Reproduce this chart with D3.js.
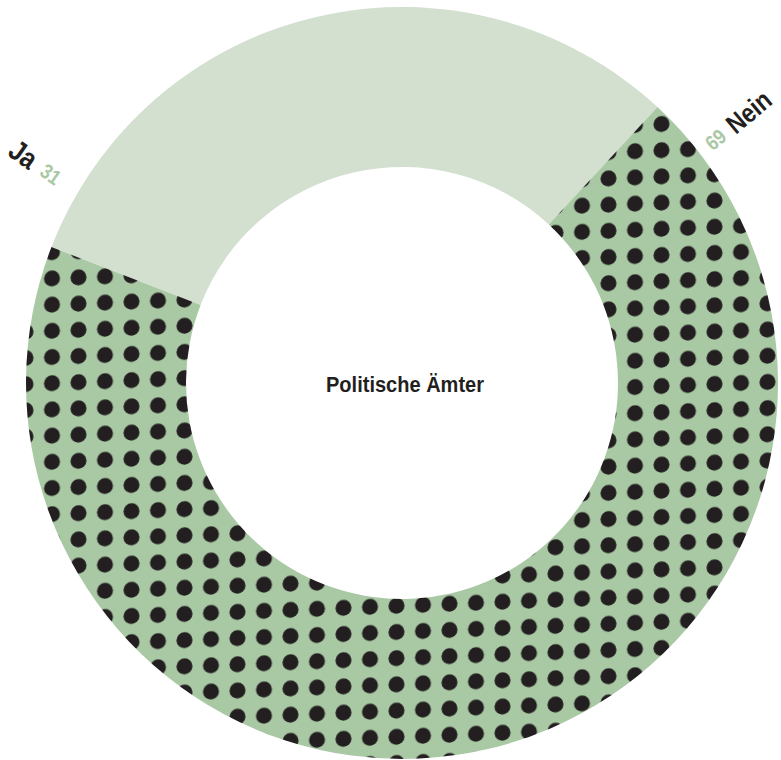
<!DOCTYPE html>
<html><head><meta charset="utf-8">
<script src="https://cdn.jsdelivr.net/npm/d3@7"></script>
<style>
html,body{margin:0;padding:0;background:#fff;overflow:hidden}
svg text{font-family:"Liberation Sans",Arial,sans-serif;font-weight:bold}
</style></head>
<body>
<script>
const categories = ["Ja", "Nein"];
const values = [31, 69];
const title = "Politische Ämter";

const W = 781, H = 760;
const cx = 402, cy = 383, rOuter = 376, rInner = 216;
const startDeg = -68.8;

const svg = d3.select("body").append("svg").attr("width", W).attr("height", H);
const defs = svg.append("defs");
const pat = defs.append("pattern").attr("id", "dots")
  .attr("patternUnits", "userSpaceOnUse")
  .attr("x", 7.75).attr("y", -0.1).attr("width", 26.5).attr("height", 26.2)
  .attr("patternTransform", "skewY(-2.2)");
pat.append("rect").attr("width", 26.5).attr("height", 26.2).attr("fill", "#a9c8a4");
pat.append("circle").attr("cx", 13.25).attr("cy", 13.1).attr("r", 8).attr("fill", "#231f20");

const fills = ["#d3e0cf", "url(#dots)"];
const pie = d3.pie().sort(null).value(d => d)
  .startAngle(startDeg * Math.PI / 180).endAngle(startDeg * Math.PI / 180 + 2 * Math.PI);
const arcs = pie(values);
const arc = d3.arc().innerRadius(rInner).outerRadius(rOuter);
const g = svg.append("g").attr("transform", `translate(${cx},${cy})`);
g.selectAll("path").data(arcs).join("path").attr("d", arc).attr("fill", (d, i) => fills[i]);

// centre title
g.append("text").attr("x", 3).attr("y", 9).attr("text-anchor", "middle")
  .attr("font-size", 22.5).attr("fill", "#231f20")
  .attr("textLength", 158).attr("lengthAdjust", "spacingAndGlyphs").text(title);

// radial labels
const labelCfg = [
  { angle: -58.8, r: 456, rot: 35, inward: true },
  { angle: 52.2, r: 387, rot: -40, inward: false }
];
categories.forEach((c, i) => {
  const cfg = labelCfg[i];
  const a = cfg.angle * Math.PI / 180;
  const x = cfg.r * Math.sin(a), y = -cfg.r * Math.cos(a);
  const t = g.append("text").attr("transform", `translate(${x},${y}) rotate(${cfg.rot}) scale(0.85,1)`)
    .attr("dominant-baseline", "central");
  if (cfg.inward) {
    t.append("tspan").attr("font-size", 29).attr("fill", "#231f20").text(c);
    t.append("tspan").attr("dx", 12).attr("font-size", 21).attr("fill", "#a9c8a4").text(values[i]);
  } else {
    t.append("tspan").attr("font-size", 21).attr("fill", "#a9c8a4").text(values[i]);
    t.append("tspan").attr("dx", 10).attr("font-size", 27).attr("fill", "#231f20").text(c);
  }
});
</script>
</body></html>
